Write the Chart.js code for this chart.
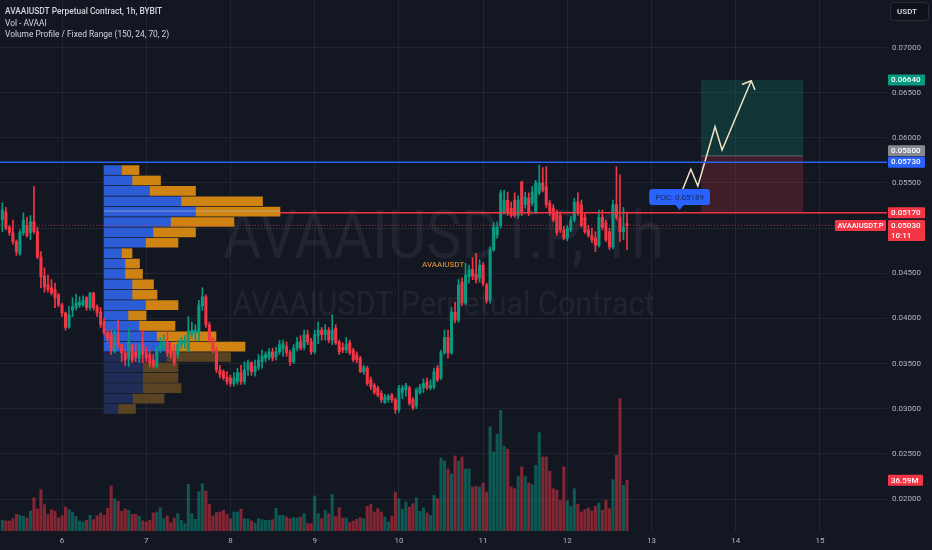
<!DOCTYPE html>
<html>
<head>
<meta charset="utf-8">
<title>AVAAIUSDT.P 1h</title>
<script src="https://cdn.jsdelivr.net/npm/chart.js@4.4.1/dist/chart.umd.min.js"></script>
<style>
  html, body { margin: 0; padding: 0; background: #131722; }
  canvas { display: block; background: #131722; }
</style>
</head>
<body>
<canvas id="chart" width="932" height="550"></canvas>
<script>
// hourly candles, the first one opens on day 5 at 07:00 (hour -17 counted from day 6 00:00)
const firstHour = -17;
const opens = [
  .0509,.0518,.0501,.0495,.0485,.0472,.0495,.0503,.0495,.0507,
  .0496,.0468,.0447,.0437,.0434,.0432,.0426,.0415,.0406,.0390,
  .0409,.0412,.0415,.0415,.0423,.0412,.0428,.0413,.0407,.0396,
  .0384,.0382,.0363,.0382,.0371,.0362,.0356,.0371,.0363,.0356,
  .0371,.0363,.0360,.0354,.0347,.0365,.0367,.0374,.0365,.0363,
  .0360,.0371,.0373,.0365,.0382,.0384,.0385,.0414,.0424,.0393,
  .0376,.0365,.0343,.0341,.0335,.0334,.0328,.0330,.0340,.0330,
  .0343,.0351,.0341,.0346,.0352,.0356,.0357,.0363,.0358,.0363,
  .0366,.0369,.0362,.0352,.0367,.0374,.0368,.0382,.0374,.0363,
  .0381,.0387,.0382,.0387,.0376,.0389,.0374,.0368,.0365,.0373,
  .0365,.0360,.0356,.0341,.0345,.0332,.0326,.0323,.0317,.0307,
  .0310,.0315,.0310,.0299,.0318,.0321,.0323,.0310,.0303,.0318,
  .0323,.0330,.0323,.0324,.0345,.0334,.0362,.0379,.0362,.0407,
  .0398,.0440,.0417,.0446,.0454,.0449,.0445,.0459,.0437,.0420,
  .0476,.0492,.0503,.0518,.0531,.0522,.0531,.0514,.0551,.0526,
  .0533,.0528,.0518,.0539,.0550,.0546,.0528,.0522,.0517,.0514,
  .0498,.0489,.0498,.0509,.0529,.0526,.0512,.0498,.0492,.0489,
  .0481,.0512,.0506,.0496,.0479,.0526,.0512,.0496,.0505
];
const highs = [
  .0528,.0523,.0503,.0509,.0487,.0498,.0517,.0512,.0514,.0546,
  .0501,.0474,.0456,.0448,.0443,.0439,.0428,.0417,.0407,.0413,
  .0423,.0427,.0424,.0425,.0424,.0429,.0429,.0415,.0412,.0400,
  .0387,.0387,.0387,.0398,.0371,.0365,.0390,.0371,.0371,.0371,
  .0387,.0368,.0365,.0360,.0369,.0379,.0382,.0385,.0373,.0371,
  .0376,.0379,.0381,.0402,.0396,.0393,.0420,.0434,.0426,.0396,
  .0379,.0368,.0348,.0343,.0341,.0337,.0340,.0345,.0348,.0352,
  .0354,.0352,.0354,.0360,.0365,.0363,.0367,.0367,.0368,.0376,
  .0376,.0374,.0365,.0371,.0379,.0381,.0387,.0387,.0378,.0387,
  .0396,.0390,.0393,.0390,.0404,.0393,.0376,.0373,.0379,.0376,
  .0367,.0363,.0358,.0348,.0347,.0335,.0328,.0325,.0320,.0316,
  .0316,.0317,.0312,.0326,.0326,.0328,.0325,.0312,.0323,.0327,
  .0333,.0334,.0332,.0345,.0348,.0365,.0387,.0387,.0412,.0418,
  .0443,.0445,.0461,.0459,.0467,.0472,.0465,.0462,.0439,.0479,
  .0506,.0507,.0542,.0542,.0540,.0529,.0539,.0536,.0552,.0540,
  .0539,.0546,.0553,.0570,.0567,.0568,.0531,.0526,.0520,.0518,
  .0502,.0503,.0513,.0533,.0539,.0531,.0516,.0503,.0500,.0496,
  .0520,.0520,.0509,.0500,.0531,.0568,.0559,.0523,.0518
];
const lows = [
  .0496,.0498,.0492,.0482,.0470,.0470,.0492,.0490,.0487,.0494,
  .0466,.0434,.0429,.0429,.0426,.0412,.0413,.0402,.0387,.0389,
  .0402,.0409,.0412,.0413,.0409,.0409,.0409,.0402,.0390,.0382,
  .0373,.0360,.0362,.0368,.0352,.0348,.0347,.0351,.0352,.0351,
  .0351,.0352,.0346,.0345,.0345,.0362,.0365,.0358,.0356,.0348,
  .0356,.0367,.0367,.0363,.0378,.0376,.0376,.0409,.0390,.0373,
  .0362,.0340,.0334,.0332,.0327,.0325,.0325,.0327,.0327,.0327,
  .0337,.0337,.0336,.0343,.0345,.0352,.0354,.0353,.0354,.0360,
  .0358,.0358,.0348,.0350,.0364,.0365,.0365,.0371,.0360,.0361,
  .0372,.0376,.0376,.0373,.0371,.0371,.0360,.0362,.0362,.0360,
  .0352,.0351,.0340,.0338,.0326,.0321,.0316,.0313,.0307,.0306,
  .0307,.0307,.0295,.0296,.0311,.0314,.0304,.0299,.0300,.0316,
  .0318,.0321,.0321,.0322,.0330,.0332,.0360,.0356,.0360,.0395,
  .0396,.0414,.0415,.0439,.0443,.0439,.0440,.0436,.0417,.0417,
  .0474,.0489,.0500,.0516,.0514,.0512,.0512,.0511,.0514,.0522,
  .0514,.0525,.0516,.0537,.0540,.0523,.0514,.0507,.0492,.0495,
  .0487,.0486,.0496,.0507,.0514,.0501,.0494,.0490,.0484,.0474,
  .0479,.0498,.0485,.0476,.0477,.0509,.0485,.0487,.0476
];
const closes = [
  .0520,.0500,.0495,.0485,.0474,.0495,.0509,.0492,.0507,.0496,
  .0468,.0446,.0435,.0432,.0428,.0423,.0415,.0406,.0390,.0404,
  .0413,.0417,.0418,.0420,.0412,.0428,.0412,.0406,.0393,.0384,
  .0378,.0365,.0378,.0371,.0362,.0354,.0374,.0354,.0357,.0365,
  .0360,.0356,.0351,.0348,.0367,.0371,.0374,.0362,.0360,.0351,
  .0371,.0376,.0376,.0385,.0387,.0387,.0415,.0424,.0393,.0376,
  .0365,.0343,.0338,.0334,.0330,.0328,.0334,.0340,.0330,.0343,
  .0351,.0341,.0347,.0354,.0358,.0360,.0363,.0356,.0363,.0371,
  .0372,.0362,.0352,.0367,.0374,.0367,.0382,.0374,.0363,.0382,
  .0387,.0382,.0387,.0376,.0387,.0373,.0363,.0365,.0371,.0362,
  .0354,.0354,.0341,.0346,.0328,.0324,.0318,.0315,.0310,.0313,
  .0314,.0310,.0299,.0323,.0323,.0325,.0306,.0301,.0321,.0324,
  .0328,.0323,.0326,.0341,.0332,.0362,.0379,.0362,.0407,.0398,
  .0437,.0417,.0448,.0454,.0447,.0443,.0459,.0439,.0420,.0476,
  .0501,.0501,.0539,.0531,.0517,.0514,.0514,.0531,.0517,.0534,
  .0517,.0540,.0550,.0550,.0542,.0526,.0517,.0509,.0495,.0498,
  .0489,.0500,.0509,.0529,.0517,.0503,.0496,.0492,.0487,.0481,
  .0512,.0501,.0487,.0479,.0526,.0512,.0496,.0501,.0503
];
// volume, millions
const volumes = [
  7.7,7.2,7.2,8.9,12.0,11.3,10.6,9.4,14.4,24.0,
  15.9,29.8,19.0,12.0,15.4,14.4,9.4,11.0,17.3,15.4,
  13.7,10.6,7.2,6.5,7.7,11.3,8.2,11.0,13.0,11.3,
  16.4,32.5,23.3,21.4,14.2,15.9,14.9,12.0,12.0,10.6,
  7.4,6.5,7.7,13.0,13.7,16.8,8.9,10.8,6.0,9.4,
  12.5,7.7,5.3,33.7,12.5,8.4,28.4,34.1,28.7,19.3,
  10.8,13.2,13.7,14.9,12.0,8.9,13.7,13.7,15.7,8.9,
  8.7,7.2,5.8,8.9,8.2,7.7,7.7,8.2,16.4,11.3,
  11.3,10.1,8.9,9.6,9.4,10.1,12.5,5.3,5.3,25.3,
  12.5,8.9,14.9,12.5,26.5,10.6,16.8,9.4,9.4,6.0,
  7.2,8.4,9.6,8.9,17.8,19.3,13.7,16.1,13.7,10.1,
  6.5,10.8,28.1,23.3,15.7,20.9,17.3,19.7,23.8,14.2,
  16.8,13.0,11.3,25.8,23.3,52.7,50.5,44.7,41.1,54.1,
  50.5,53.4,44.7,44.7,31.8,32.3,31.8,34.6,28.1,75.1,
  57.0,69.8,87.1,61.1,59.0,31.8,30.5,39.5,46.2,39.5,
  34.6,33.4,47.4,70.9,53.4,53.4,43.1,30.5,29.4,22.2,
  46.2,21.7,17.8,30.5,19.3,13.7,15.4,16.6,14.4,17.8,
  20.2,14.9,22.2,16.1,37.0,54.6,95.5,33.0,36.59
];

const dayTicks = [0, 24, 48, 72, 96, 120, 144, 168, 192, 216];
const dayLabels = ["6", "7", "8", "9", "10", "11", "12", "13", "14", "15"];
const priceTicks = [0.02, 0.025, 0.03, 0.035, 0.04, 0.045, 0.05, 0.055, 0.06, 0.065, 0.07];

// volume profile / fixed range, 24 rows listed from the top row down
const profileHigh = 0.0570;
const profileLow = 0.0294;
const profileUp = [35, 56, 91, 154, 183, 133, 98, 83, 35, 42, 42, 56, 56, 83, 48, 70, 105, 133, 125, 77, 77, 77, 57, 28];
const profileDown = [35, 57, 92, 163, 169, 127, 85, 65, 21, 29, 35, 43, 50, 65, 36, 72, 119, 149, 128, 71, 71, 77, 63, 35];
const valueAreaRows = 18;
const pocPrice = 0.05189;

// drawings
const resistancePrice = 0.0573;
const stopPrice = 0.0517;
const entryPrice = 0.0580;
const targetPrice = 0.0664;
const lastPrice = 0.0503;
const lastVolume = 36.59;
const positionHours = [182.1, 211.2];
const pathHours = [175.2, 179.2, 181.2, 186.1, 188.1, 196.4];
const pathPrices = [0.05267, 0.05651, 0.05466, 0.06123, 0.05865, 0.06632];

const FONT = "Roboto, 'Liberation Sans', sans-serif";
const GRID = "rgba(42,46,57,0.6)";
const TEXT = "#b2b5be";
const UP = "#089981";
const DOWN = "#f23645";

const hours = closes.map((c, i) => firstHour + i);
const candleColors = closes.map((c, i) => (c >= opens[i] ? UP : DOWN));
const volumeColors = closes.map((c, i) => (c >= opens[i] ? "rgba(8,153,129,0.5)" : "rgba(242,54,69,0.5)"));

const rowSize = (profileHigh - profileLow) / profileUp.length;
const rowPrices = profileUp.map((v, k) => profileHigh - (k + 0.5) * rowSize);
const rowTotals = profileUp.map((v, k) => v + profileDown[k]);

function fittedText(ctx, text, cx, baseline, size, width) {
  ctx.font = `400 ${size}px ${FONT}`;
  const w = ctx.measureText(text).width;
  ctx.save();
  ctx.translate(cx, baseline);
  ctx.scale(width / w, 1);
  ctx.fillText(text, 0, 0);
  ctx.restore();
}

function hLine(ctx, y, x0, x1, color, width, dash) {
  ctx.save();
  ctx.strokeStyle = color;
  ctx.lineWidth = width;
  ctx.setLineDash(dash || []);
  ctx.beginPath();
  ctx.moveTo(x0, y);
  ctx.lineTo(x1, y);
  ctx.stroke();
  ctx.restore();
}

function tag(ctx, x, top, w, h, bg, lines) {
  ctx.fillStyle = bg;
  ctx.beginPath();
  ctx.roundRect(x, top, w, h, 1);
  ctx.fill();
  ctx.fillStyle = "#ffffff";
  ctx.font = `500 8px ${FONT}`;
  ctx.textAlign = "left";
  ctx.textBaseline = "middle";
  lines.forEach((t, k) => ctx.fillText(t, x + 3, top + 5.8 + k * 10));
}

const overlay = {
  id: "overlay",
  beforeDatasetsDraw(chart) {
    const { ctx, chartArea: a, scales: { x, y } } = chart;
    ctx.save();
    ctx.beginPath();
    ctx.rect(a.left, a.top, a.width, a.height);
    ctx.clip();

    // watermark
    ctx.fillStyle = "rgba(209,212,220,0.07)";
    ctx.textAlign = "center";
    ctx.textBaseline = "alphabetic";
    const cx = (a.left + a.right) / 2;
    fittedText(ctx, "AVAAIUSDT.P, 1h", cx, 258, 67, 441);
    fittedText(ctx, "AVAAIUSDT Perpetual Contract", cx, 315, 33, 422);

    // long position box
    const bx0 = x.getPixelForValue(positionHours[0]);
    const bx1 = x.getPixelForValue(positionHours[1]);
    const yT = y.getPixelForValue(targetPrice);
    const yE = y.getPixelForValue(entryPrice);
    const yS = y.getPixelForValue(stopPrice);
    ctx.fillStyle = "rgba(8,153,129,0.22)";
    ctx.fillRect(bx0, yT, bx1 - bx0, yE - yT);
    ctx.fillStyle = "rgba(242,54,69,0.2)";
    ctx.fillRect(bx0, yE, bx1 - bx0, yS - yE);
    hLine(ctx, yE, bx0, bx1, "rgba(130,120,150,0.7)", 1);
    ctx.restore();
  },
  afterDatasetsDraw(chart) {
    const { ctx, chartArea: a, scales: { x, y, xp } } = chart;
    ctx.save();
    ctx.beginPath();
    ctx.rect(a.left, a.top, a.width, a.height);
    ctx.clip();

    // point of control inside the profile
    const pocY = y.getPixelForValue(pocPrice);
    const profileEnd = xp.getPixelForValue(Math.max(...rowTotals));
    hLine(ctx, pocY, xp.getPixelForValue(0), profileEnd, "rgba(200,200,210,0.55)", 1);

    // horizontal levels
    hLine(ctx, y.getPixelForValue(resistancePrice), a.left, a.right, "#2962ff", 1.5);
    hLine(ctx, y.getPixelForValue(stopPrice), profileEnd, a.right, "#f23645", 1.5);
    hLine(ctx, y.getPixelForValue(lastPrice), a.left, a.right, "rgba(242,54,69,0.6)", 1, [1, 2]);

    // POC callout
    const px = x.getPixelForValue(176.0);
    ctx.font = `400 8px ${FONT}`;
    const tw = ctx.measureText("POC: 0.05189").width;
    const bw = tw + 12, bh = 16, bTop = pocY - 6 - bh;
    ctx.fillStyle = "#2962ff";
    ctx.beginPath();
    ctx.roundRect(px - bw / 2, bTop, bw, bh, 3);
    ctx.fill();
    ctx.beginPath();
    ctx.moveTo(px - 4, bTop + bh);
    ctx.lineTo(px + 4, bTop + bh);
    ctx.lineTo(px, pocY - 1);
    ctx.closePath();
    ctx.fill();
    ctx.fillStyle = "rgba(19,23,34,0.75)";
    ctx.textAlign = "center";
    ctx.textBaseline = "middle";
    ctx.fillText("POC: 0.05189", px, bTop + bh / 2 + 0.5);

    // arrow head at the end of the path
    const n = pathHours.length;
    const ex = x.getPixelForValue(pathHours[n - 1]), ey = y.getPixelForValue(pathPrices[n - 1]);
    const sx = x.getPixelForValue(pathHours[n - 2]), sy = y.getPixelForValue(pathPrices[n - 2]);
    const ang = Math.atan2(ey - sy, ex - sx);
    ctx.strokeStyle = "#f1e2c4";
    ctx.lineWidth = 1.5;
    ctx.beginPath();
    ctx.moveTo(ex + 10 * Math.cos(ang + Math.PI * 0.75), ey + 10 * Math.sin(ang + Math.PI * 0.75));
    ctx.lineTo(ex, ey);
    ctx.lineTo(ex + 10 * Math.cos(ang - Math.PI * 0.75), ey + 10 * Math.sin(ang - Math.PI * 0.75));
    ctx.stroke();

    // symbol label
    ctx.fillStyle = "#f0a02c";
    ctx.font = `400 8px ${FONT}`;
    ctx.textAlign = "center";
    ctx.fillText("AVAAIUSDT", x.getPixelForValue(108.6), y.getPixelForValue(0.0459));
    ctx.restore();
  },
  afterDraw(chart) {
    const { ctx, chartArea: a, scales: { y, yv } } = chart;
    ctx.save();
    const ax = a.right + 1;
    const yR = y.getPixelForValue(resistancePrice);
    const yE = Math.min(y.getPixelForValue(entryPrice), yR - 11.5);
    const yL = y.getPixelForValue(lastPrice);
    tag(ctx, ax, y.getPixelForValue(targetPrice) - 5.5, 37, 11, "#089981", [targetPrice.toFixed(5)]);
    tag(ctx, ax, yE - 5.5, 37, 11, "#868993", [entryPrice.toFixed(5)]);
    tag(ctx, ax, yR - 5.5, 37, 11, "#2962ff", [resistancePrice.toFixed(5)]);
    tag(ctx, ax, y.getPixelForValue(stopPrice) - 5.5, 37, 11, "#f23645", [stopPrice.toFixed(5)]);
    tag(ctx, ax, yL - 5.5, 37, 21, "#f23645", [lastPrice.toFixed(5), "10:11"]);
    tag(ctx, ax, yv.getPixelForValue(lastVolume) - 5.5, 35, 11, "#f23645", [lastVolume.toFixed(2) + "M"]);

    // symbol tag left of the price tag
    ctx.font = `500 7.5px ${FONT}`;
    const sw = ctx.measureText("AVAAIUSDT.P").width + 5;
    ctx.fillStyle = "#f23645";
    ctx.beginPath();
    ctx.roundRect(a.right - 1 - sw, yL - 5.5, sw, 11, 1);
    ctx.fill();
    ctx.fillStyle = "#ffffff";
    ctx.textAlign = "left";
    ctx.textBaseline = "middle";
    ctx.fillText("AVAAIUSDT.P", a.right - 1 - sw + 2.5, yL + 0.3);

    // currency button
    ctx.fillStyle = "#0f121a";
    ctx.strokeStyle = "#2a2e39";
    ctx.lineWidth = 1;
    ctx.beginPath();
    ctx.roundRect(890.5, 2.5, 38, 18, 3);
    ctx.fill();
    ctx.stroke();
    ctx.fillStyle = "#d1d4dc";
    ctx.font = `600 8px ${FONT}`;
    ctx.fillText("USDT", 897, 12);

    // legend lines
    ctx.fillStyle = "#d1d4dc";
    ctx.font = `500 8.4px ${FONT}`;
    ctx.fillText("AVAAIUSDT Perpetual Contract, 1h, BYBIT", 5, 11.5);
    ctx.font = `400 8.4px ${FONT}`;
    ctx.fillText("Vol - AVAAI", 5, 23.5);
    ctx.fillText("Volume Profile / Fixed Range (150, 24, 70, 2)", 5, 34.5);
    ctx.restore();
  }
};

const ctx = document.getElementById("chart").getContext("2d");
new Chart(ctx, {
  type: "bar",
  data: {
    datasets: [
      {
        type: "line",
        label: "Path",
        data: pathHours.map((h, k) => ({ x: h, y: pathPrices[k] })),
        xAxisID: "x",
        yAxisID: "y",
        borderColor: "#f1e2c4",
        borderWidth: 1.5,
        pointRadius: 0,
        tension: 0,
        order: 0,
      },
      {
        label: "Body",
        data: hours.map((h, i) => ({ x: h, y: [opens[i], closes[i]] })),
        xAxisID: "x",
        yAxisID: "y",
        backgroundColor: candleColors,
        barThickness: 2.4,
        minBarLength: 1,
        grouped: false,
        order: 1,
      },
      {
        label: "Wick",
        data: hours.map((h, i) => ({ x: h, y: [lows[i], highs[i]] })),
        xAxisID: "x",
        yAxisID: "y",
        backgroundColor: candleColors,
        barThickness: 1,
        grouped: false,
        order: 2,
      },
      {
        label: "Profile up",
        indexAxis: "y",
        data: rowPrices.map((p, k) => ({ y: p, x: [0, profileUp[k]] })),
        xAxisID: "xp",
        yAxisID: "y",
        backgroundColor: rowPrices.map((p, k) => (k < valueAreaRows ? "#2c5dd6" : "#1f2c55")),
        barThickness: 9,
        grouped: false,
        order: 3,
      },
      {
        label: "Profile down",
        indexAxis: "y",
        data: rowPrices.map((p, k) => ({ y: p, x: [profileUp[k], rowTotals[k]] })),
        xAxisID: "xp",
        yAxisID: "y",
        backgroundColor: rowPrices.map((p, k) => (k < valueAreaRows ? "#ce8312" : "#5a4323")),
        barThickness: 9,
        grouped: false,
        order: 3,
      },
      {
        label: "Volume",
        data: hours.map((h, i) => ({ x: h, y: volumes[i] })),
        xAxisID: "x",
        yAxisID: "yv",
        backgroundColor: volumeColors,
        barThickness: 2.4,
        grouped: false,
        order: 5,
      },
    ],
  },
  options: {
    responsive: false,
    devicePixelRatio: 1,
    animation: false,
    layout: { padding: 0 },
    plugins: { legend: { display: false }, tooltip: { enabled: false } },
    scales: {
      x: {
        type: "linear",
        axis: "x",
        position: "bottom",
        min: -17.67,
        max: 235.1,
        offset: false,
        bounds: "data",
        afterBuildTicks: (s) => { s.ticks = dayTicks.map((v) => ({ value: v })); },
        afterFit: (s) => { s.height = 19; s.paddingLeft = 0; s.paddingRight = 0; },
        grid: { color: GRID, drawTicks: false, offset: false },
        border: { display: false },
        ticks: {
          color: TEXT,
          font: { family: FONT, size: 8 },
          padding: 5,
          maxRotation: 0,
          autoSkip: false,
          callback: (v) => dayLabels[dayTicks.indexOf(v)],
        },
      },
      y: {
        type: "linear",
        axis: "y",
        position: "right",
        min: 0.01646,
        max: 0.07526,
        offset: false,
        beginAtZero: false,
        bounds: "data",
        afterBuildTicks: (s) => { s.ticks = priceTicks.map((v) => ({ value: v })); },
        afterFit: (s) => { s.width = 45; s.paddingTop = 0; s.paddingBottom = 0; },
        grid: { color: GRID, drawTicks: false, offset: false },
        border: { display: false },
        ticks: {
          color: TEXT,
          font: { family: FONT, size: 8 },
          padding: 5,
          callback: (v) => v.toFixed(5),
        },
      },
      yv: { type: "linear", axis: "y", display: false, offset: false, grid: { offset: false }, min: 0, max: 383 },
      xp: { type: "linear", axis: "x", display: false, offset: false, grid: { offset: false }, min: -208, max: 1566 },
    },
  },
  plugins: [overlay],
});
</script>
</body>
</html>
